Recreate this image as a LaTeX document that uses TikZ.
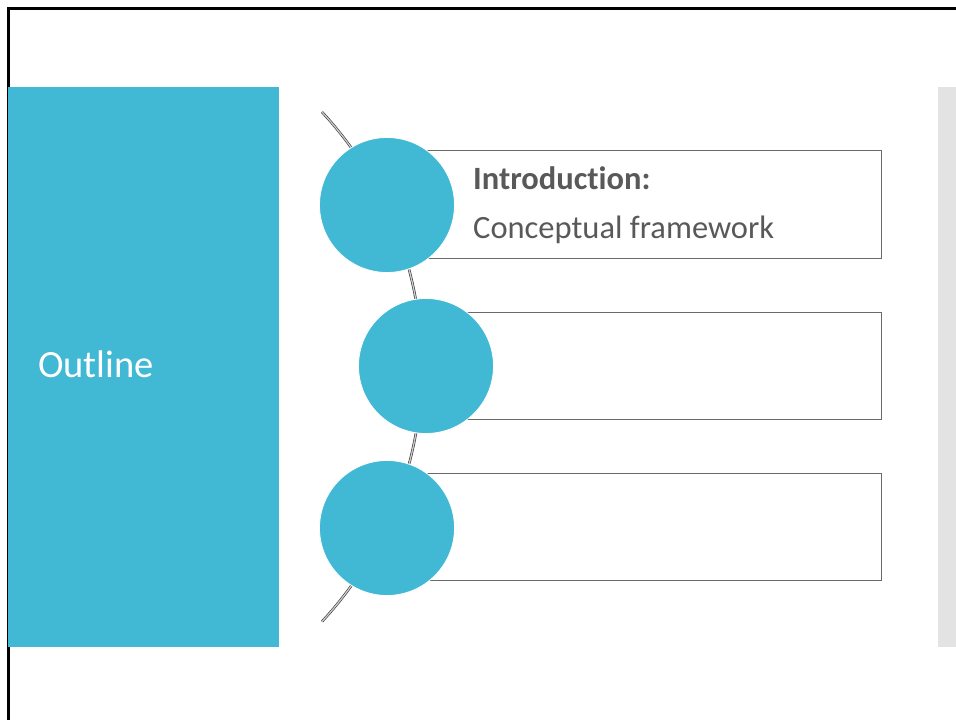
\documentclass[tikz,border=0pt]{standalone}
\usepackage{fontspec}
\setmainfont{Carlito}[Ligatures=NoCommon]
\definecolor{teal}{HTML}{41B8D4}
\definecolor{bar}{HTML}{E3E3E3}
\definecolor{txt}{HTML}{595959}
\definecolor{edge}{HTML}{6A6A6A}
\tikzset{
  bubble/.style={circle, fill=teal, draw=white, line width=0.8pt, minimum size=135pt, inner sep=0pt},
  itembox/.style={rectangle, draw=edge, line width=1pt, fill=white, anchor=south west, minimum width=494pt, minimum height=108pt, inner sep=0pt},
  rim/.style={draw=black!80, line width=0.6pt, double=black!20, double distance=1.3pt},
  label/.style={anchor=base west, inner sep=0pt, text=txt, font=\fontsize{32.5}{40}\selectfont}
}
\begin{document}
\begin{tikzpicture}[x=1pt, y=1pt]
\useasboundingbox (0,0) rectangle (956,720);
% frame
\draw[black, line width=2.5pt] (8.5,0) -- (8.5,711.5) -- (956,711.5);
\fill[teal] (8,73) rectangle (279,633);
\fill[bar] (938,73) rectangle (956,633);
\node[anchor=base west, inner sep=0pt, text=white, font=\fontsize{38.5}{46}\selectfont] (title) at (38,342) {Outline};
% arc behind the bubbles
\coordinate (arctop) at (322,608);
\draw[rim] (arctop) arc[start angle=42.8, end angle=-42.8, radius=375];
% boxes
\node[itembox] (box1) at (387,461) {};
\node[itembox, minimum width=455pt, minimum height=107pt] (box2) at (426,300) {};
\node[itembox, minimum height=107pt] (box3) at (387,139) {};
% bubbles
\node[bubble] (c1) at (387,515) {};
\node[bubble] (c2) at (426,354) {};
\node[bubble] (c3) at (387,192) {};
% text
\node[label, font=\fontsize{32.5}{40}\selectfont\bfseries] (head1) at (473,530) {Introduction:};
\node[label] (sub1) at (473,481) {Conceptual framework};
\end{tikzpicture}
\end{document}
